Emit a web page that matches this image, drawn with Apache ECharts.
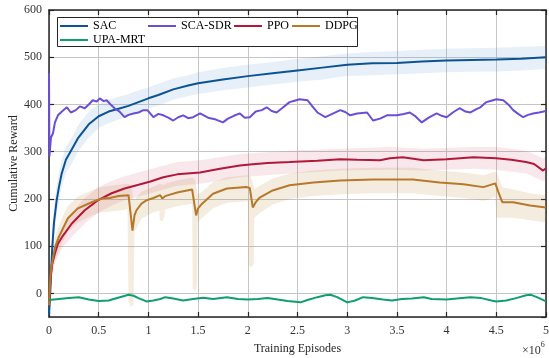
<!DOCTYPE html>
<html><head><meta charset="utf-8">
<script src="https://cdn.jsdelivr.net/npm/echarts@6/dist/echarts.min.js"></script>
<style>html,body{margin:0;padding:0;background:#fff}#c{width:549px;height:358px}</style>
</head><body><div id="c"></div>
<script>
// ---- data (x in units of 1e6 episodes) ----
const xTickLabels = ['0','0.5','1','1.5','2','2.5','3','3.5','4','4.5','5'];
const yTickLabels = ['0','100','200','300','400','500','600'];

const sac = [[0,-45],[0.01,-10],[0.02,40],[0.033,98],[0.05,150],[0.077,197],[0.1,225],[0.128,254],[0.17,283],[0.23,305],[0.29,328],[0.4,358],[0.5,375],[0.6,385],[0.7,391],[0.8,397],[0.9,405],[1.0,413],[1.1,420],[1.25,432],[1.4,440],[1.5,445],[1.75,453],[2.0,460],[2.25,466],[2.5,472],[2.75,478],[3.0,484],[3.25,487],[3.5,488],[3.75,491],[4.0,493],[4.25,494],[4.5,495],[4.75,497],[5.0,500]];
const sacBand = [[0,-55,-35],[0.01,-30,10],[0.02,15,70],[0.033,65,130],[0.05,115,185],[0.077,165,230],[0.1,195,255],[0.128,225,282],[0.17,255,310],[0.23,275,330],[0.29,300,355],[0.4,330,385],[0.5,350,400],[0.6,360,410],[0.7,368,416],[0.8,375,422],[0.9,383,430],[1.0,392,436],[1.1,398,444],[1.25,410,455],[1.4,418,462],[1.5,422,468],[1.75,430,477],[2.0,436,484],[2.25,442,490],[2.5,448,496],[2.75,453,502],[3.0,460,508],[3.25,462,511],[3.5,464,513],[3.75,466,516],[4.0,468,518],[4.25,469,519],[4.5,470,520],[4.75,472,522],[5.0,475,524]];

const scaSdr = [[0,466],[0.004,290],[0.02,330],[0.04,339],[0.06,362],[0.09,377],[0.13,385],[0.18,394],[0.22,383],[0.27,388],[0.31,396],[0.36,392],[0.4,400],[0.44,409],[0.48,406],[0.51,413],[0.55,407],[0.58,409],[0.62,400],[0.66,392],[0.71,385],[0.76,373],[0.8,378],[0.85,381],[0.9,383],[0.95,388],[0.99,388],[1.05,373],[1.1,380],[1.15,377],[1.2,372],[1.25,366],[1.3,373],[1.35,377],[1.4,371],[1.45,373],[1.52,381],[1.6,372],[1.68,368],[1.75,362],[1.8,370],[1.86,376],[1.92,381],[1.97,372],[2.02,373],[2.08,385],[2.14,388],[2.19,394],[2.24,386],[2.29,383],[2.35,393],[2.42,405],[2.47,408],[2.52,411],[2.6,409],[2.65,396],[2.7,383],[2.78,373],[2.85,380],[2.93,388],[2.98,384],[3.03,377],[3.1,381],[3.2,383],[3.26,366],[3.33,370],[3.4,377],[3.5,377],[3.57,380],[3.63,383],[3.68,376],[3.75,362],[3.82,372],[3.9,381],[3.95,376],[4.0,373],[4.07,384],[4.13,392],[4.19,385],[4.24,383],[4.3,390],[4.34,394],[4.4,405],[4.45,408],[4.5,411],[4.57,409],[4.62,400],[4.67,388],[4.72,380],[4.77,373],[4.82,378],[4.87,381],[4.93,383],[5.0,386]];

const ppo = [[0,-25],[0.01,10],[0.02,40],[0.03,60],[0.06,85],[0.09,105],[0.13,119],[0.23,148],[0.36,176],[0.49,197],[0.63,212],[0.76,222],[0.9,230],[1.02,237],[1.15,246],[1.29,252],[1.52,256],[1.72,264],[1.92,271],[2.02,273],[2.2,276],[2.42,278],[2.7,281],[2.93,284],[3.1,283],[3.33,282],[3.43,286],[3.56,288],[3.77,282],[4.0,284],[4.27,288],[4.5,286],[4.65,283],[4.8,278],[4.88,274],[4.97,260],[5.0,265]];
const ppoBand = [[0,-35,-15],[0.02,25,60],[0.06,65,105],[0.13,95,140],[0.23,120,172],[0.36,148,202],[0.49,170,224],[0.63,186,238],[0.76,197,248],[0.9,205,256],[1.02,212,263],[1.29,228,278],[1.52,232,282],[1.92,246,295],[2.42,254,302],[2.93,260,306],[3.43,262,310],[3.77,260,306],[4.27,264,310],[4.5,262,310],[4.8,254,302],[4.97,238,286],[5.0,240,290]];

const ddpg = [[0,-25],[0.01,20],[0.02,50],[0.04,75],[0.06,97],[0.1,120],[0.13,133],[0.19,159],[0.29,180],[0.43,193],[0.53,201],[0.61,202],[0.7,206],[0.8,208],[0.81,205],[0.84,133],[0.86,165],[0.88,176],[0.93,190],[0.98,197],[1.05,202],[1.12,208],[1.14,201],[1.17,206],[1.2,208],[1.3,214],[1.44,220],[1.45,218],[1.48,165],[1.5,180],[1.54,190],[1.65,211],[1.79,222],[1.99,225],[2.02,223],[2.05,182],[2.08,193],[2.12,203],[2.25,218],[2.42,229],[2.66,235],[2.93,239],[3.26,241],[3.43,241],[3.66,241],[3.93,235],[4.17,231],[4.37,225],[4.49,233],[4.52,215],[4.56,193],[4.67,193],[4.84,186],[5.0,182]];
const ddpgBand = [[0,-35,-15],[0.02,30,70],[0.06,70,120],[0.13,105,160],[0.19,130,185],[0.29,150,205],[0.43,165,218],[0.53,172,226],[0.7,175,230],[0.79,178,232],[0.8,-15,232],[0.82,-28,230],[0.85,-25,200],[0.86,130,198],[0.93,158,215],[1.05,172,226],[1.11,175,232],[1.115,155,232],[1.14,152,230],[1.16,160,230],[1.17,178,232],[1.3,185,240],[1.44,190,245],[1.445,10,245],[1.47,5,240],[1.49,15,215],[1.495,150,210],[1.54,160,215],[1.65,180,236],[1.79,192,246],[2.0,195,250],[2.01,60,250],[2.035,55,245],[2.06,62,225],[2.065,160,220],[2.12,170,228],[2.25,188,243],[2.42,200,254],[2.66,206,260],[2.93,210,264],[3.26,212,266],[3.66,212,266],[3.93,206,260],[4.17,202,256],[4.37,196,250],[4.49,204,258],[4.5,160,258],[4.56,160,225],[4.67,160,220],[4.84,155,212],[5.0,150,208]];

const upaMrt = [[0,-14],[0.05,-13],[0.1,-12],[0.2,-10],[0.3,-8],[0.4,-13],[0.5,-16],[0.6,-15],[0.65,-12],[0.75,-6],[0.8,-3],[0.85,-5],[0.9,-10],[0.98,-17],[1.05,-15],[1.12,-12],[1.17,-8],[1.25,-11],[1.35,-15],[1.45,-12],[1.55,-9],[1.65,-12],[1.79,-8],[1.9,-12],[2.0,-13],[2.1,-12],[2.2,-10],[2.3,-13],[2.4,-16],[2.53,-19],[2.6,-14],[2.7,-8],[2.78,-4],[2.83,-3],[2.9,-8],[3.0,-19],[3.08,-15],[3.16,-8],[3.25,-10],[3.36,-13],[3.45,-15],[3.55,-12],[3.65,-11],[3.77,-8],[3.85,-12],[4.0,-13],[4.1,-11],[4.24,-8],[4.35,-10],[4.45,-15],[4.5,-17],[4.6,-15],[4.7,-10],[4.8,-4],[4.85,-3],[4.92,-9],[5.0,-17]];

const names = ['SAC','SCA-SDR','PPO','DDPG','UPA-MRT'];
const colors = ['#0b5394','#6a4fd6','#b3183a','#b7782a','#0e9e72'];

// ---- chart ----
const FONT = '"Liberation Serif","Times New Roman",serif';
const chart = echarts.init(document.getElementById('c'), null, {renderer:'canvas'});

function bandSeries(band, color) {
  return {
    type: 'custom', silent: true, clip: true, z: 1,
    data: band, encode: {x: 0, y: [1, 2]},
    renderItem: function (params, api) {
      if (params.dataIndex !== 0) return null;
      const up = band.map(p => api.coord([p[0], p[2]]));
      const lo = band.map(p => api.coord([p[0], p[1]])).reverse();
      return {type: 'polygon', shape: {points: up.concat(lo)}, style: {fill: color}};
    }
  };
}
function lineSeries(name, data, color) {
  return {name, type: 'line', data, symbol: 'none', showSymbol: false, z: 3,
    lineStyle: {color, width: 2}, itemStyle: {color}};
}

const axisCommon = {
  axisLine: {show: true, onZero: false, lineStyle: {color: '#262626', width: 1.5}},
  axisTick: {show: true, inside: true, length: 5, lineStyle: {color: '#262626', width: 1.2}},
};

const legendBase = {padding: 0, itemWidth: 28, itemHeight: 2, itemGap: 0, orient: 'vertical', top: 19,
  icon: 'rect',
  textStyle: {fontFamily: FONT, fontSize: 12, color: '#000', lineHeight: 14}, selectedMode: false};

const option = {
  animation: false,
  backgroundColor: '#fff',
  grid: {left: 49, right: 3, top: 10, bottom: 41, containLabel: false, outerBoundsMode: 'none'},
  xAxis: [
    Object.assign({type: 'value', min: 0, max: 5, interval: 0.5, position: 'bottom',
      name: 'Training Episodes', nameLocation: 'middle', nameGap: 26, nameMoveOverlap: false,
      nameTextStyle: {fontFamily: FONT, fontSize: 12, color: '#262626'},
      axisLabel: {fontFamily: FONT, fontSize: 12, color: '#333', margin: 8,
        formatter: v => xTickLabels[Math.round(v * 2)] ?? ''},
      splitLine: {show: true, lineStyle: {color: '#c6c6c6', width: 1}}}, axisCommon),
    Object.assign({type: 'value', min: 0, max: 5, interval: 0.5, position: 'top',
      axisLabel: {show: false}, splitLine: {show: false}}, axisCommon)
  ],
  yAxis: [
    Object.assign({type: 'value', min: -50, max: 600, splitNumber: 6, position: 'left',
      name: 'Cumulative Reward', nameLocation: 'middle', nameGap: 29, nameMoveOverlap: false,
      nameTextStyle: {fontFamily: FONT, fontSize: 12, color: '#262626'},
      axisLabel: {fontFamily: FONT, fontSize: 12, color: '#333', margin: 7, showMinLabel: false,
        formatter: v => (v >= 0 && v % 100 === 0) ? yTickLabels[v / 100] : ''},
      splitLine: {show: true, lineStyle: {color: '#c6c6c6', width: 1}}}, axisCommon),
    Object.assign({type: 'value', min: -50, max: 600, splitNumber: 6, position: 'right',
      axisLabel: {show: false}, splitLine: {show: false}}, axisCommon)
  ],
  legend: [
    Object.assign({}, legendBase, {left: 60, data: ['SAC', 'UPA-MRT']}),
    Object.assign({}, legendBase, {left: 148, data: ['SCA-SDR']}),
    Object.assign({}, legendBase, {left: 234, data: ['PPO']}),
    Object.assign({}, legendBase, {left: 292, data: ['DDPG']})
  ],
  graphic: [
    {type: 'rect', left: 57, top: 17, z: 3, shape: {width: 300, height: 29},
      style: {fill: '#fff', stroke: '#262626', lineWidth: 1}},
    {type: 'text', left: 522, top: 341, z: 5,
      style: {text: '{a|×10}{b|6}', fontFamily: FONT,
        rich: {a: {fontFamily: FONT, fontSize: 12, fill: '#333', verticalAlign: 'bottom'},
               b: {fontFamily: FONT, fontSize: 8, fill: '#333', verticalAlign: 'top', padding: [0,0,8,0]}}}}
  ],
  series: [
    bandSeries(sacBand, 'rgba(70,130,200,0.13)'),
    bandSeries(ppoBand, 'rgba(190,40,70,0.11)'),
    bandSeries(ddpgBand, 'rgba(190,130,50,0.15)'),
    lineSeries('SAC', sac, colors[0]),
    lineSeries('SCA-SDR', scaSdr, colors[1]),
    lineSeries('PPO', ppo, colors[2]),
    lineSeries('DDPG', ddpg, colors[3]),
    lineSeries('UPA-MRT', upaMrt, colors[4])
  ]
};
chart.setOption(option);
</script></body></html>
